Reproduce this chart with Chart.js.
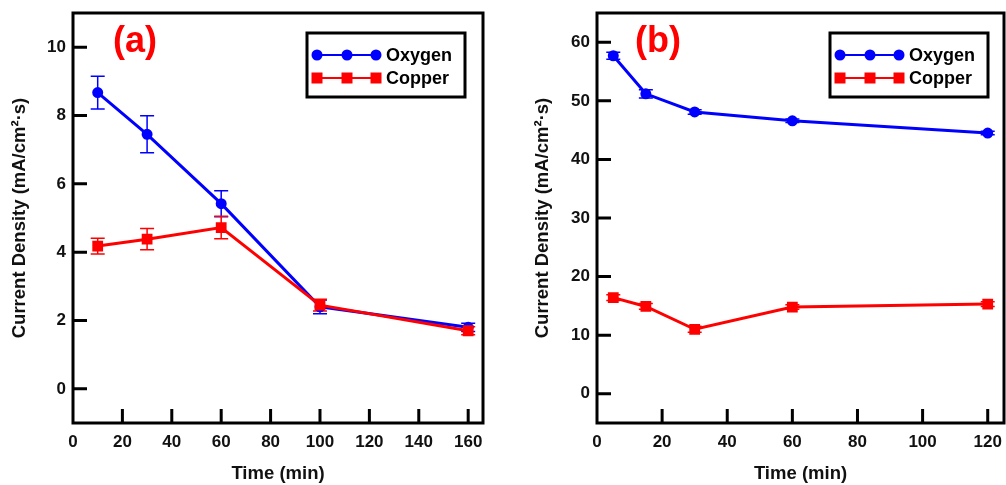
<!DOCTYPE html>
<html>
<head>
<meta charset="utf-8">
<script src="https://cdn.jsdelivr.net/npm/chart.js@4.4.1/dist/chart.umd.min.js"></script>
<style>
    html, body { margin: 0; padding: 0; background: #fff; }
    #wrap { position: relative; width: 1006px; height: 485px; overflow: hidden; }
    canvas { position: absolute; top: 0; }
    #chart-a { left: 0; }
    #chart-b { left: 505px; }
</style>
</head>
<body>
<div id="wrap">
    <canvas id="chart-a" width="505" height="485"></canvas>
    <canvas id="chart-b" width="501" height="485"></canvas>
</div>
<script>
// panel (a)
const timeA = [10, 30, 60, 100, 160];
const oxygenA = [8.67, 7.45, 5.42, 2.40, 1.80];
const oxygenErrA = [0.48, 0.54, 0.38, 0.20, 0.12];
const copperA = [4.18, 4.38, 4.72, 2.45, 1.70];
const copperErrA = [0.23, 0.31, 0.33, 0.17, 0.12];
const xTicksA = [0, 20, 40, 60, 80, 100, 120, 140, 160];
const yTicksA = [0, 2, 4, 6, 8, 10];

// panel (b)
const timeB = [5, 15, 30, 60, 120];
const oxygenB = [57.7, 51.2, 48.1, 46.6, 44.5];
const oxygenErrB = [0.6, 0.7, 0.4, 0.3, 0.3];
const copperB = [16.4, 14.9, 11.0, 14.8, 15.3];
const copperErrB = [0.5, 0.5, 0.5, 0.4, 0.4];
const xTicksB = [0, 20, 40, 60, 80, 100, 120];
const yTicksB = [0, 10, 20, 30, 40, 50, 60];

const FONT = "'Liberation Sans', Arial, sans-serif";
const BLUE = "#0000ff";
const RED = "#ff0000";

// box around the plot + inward ticks
const frameAndTicks = {
    id: "frameAndTicks",
    afterDraw(chart) {
        const { ctx, chartArea: a, scales } = chart;
        ctx.save();
        ctx.strokeStyle = "#000";
        ctx.lineWidth = 3;
        ctx.strokeRect(a.left, a.top, a.right - a.left, a.bottom - a.top);
        ctx.beginPath();
        scales.x.ticks.forEach((t) => {
            const px = scales.x.getPixelForValue(t.value);
            if (px <= a.left + 2) return; // first tick sits on the frame
            ctx.moveTo(px, a.bottom);
            ctx.lineTo(px, a.bottom - 14);
        });
        scales.y.ticks.forEach((t) => {
            const py = scales.y.getPixelForValue(t.value);
            ctx.moveTo(a.left, py);
            ctx.lineTo(a.left + 14, py);
        });
        ctx.stroke();
        ctx.restore();
    },
};

// vertical error bars with caps
const errorBars = {
    id: "errorBars",
    beforeDatasetsDraw(chart) {
        const { ctx, scales } = chart;
        ctx.save();
        ctx.lineWidth = 1.5;
        chart.data.datasets.forEach((ds) => {
            if (!ds.errors) return;
            ctx.strokeStyle = ds.borderColor;
            ctx.beginPath();
            ds.data.forEach((p, i) => {
                const x = scales.x.getPixelForValue(p.x);
                const yTop = scales.y.getPixelForValue(p.y + ds.errors[i]);
                const yBot = scales.y.getPixelForValue(p.y - ds.errors[i]);
                ctx.moveTo(x, yTop);
                ctx.lineTo(x, yBot);
                ctx.moveTo(x - 7, yTop);
                ctx.lineTo(x + 7, yTop);
                ctx.moveTo(x - 7, yBot);
                ctx.lineTo(x + 7, yBot);
            });
            ctx.stroke();
        });
        ctx.restore();
    },
};

// legend box inside the plot + panel letter
const boxLegend = {
    id: "boxLegend",
    afterDraw(chart, args, opts) {
        const { ctx, chartArea: a } = chart;
        const left = a.right - opts.right - opts.width;
        const top = opts.top;
        ctx.save();
        ctx.lineWidth = 3;
        ctx.strokeStyle = "#000";
        ctx.strokeRect(left, top, opts.width, opts.height);

        chart.data.datasets.forEach((ds, i) => {
            const y = top + 22 + i * 23;
            ctx.strokeStyle = ds.borderColor;
            ctx.fillStyle = ds.borderColor;
            ctx.lineWidth = 2;
            ctx.beginPath();
            ctx.moveTo(left + 10, y);
            ctx.lineTo(left + 69, y);
            ctx.stroke();
            [10, 40, 69].forEach((dx) => {
                ctx.beginPath();
                if (ds.pointStyle === "rect") {
                    ctx.rect(left + dx - 5.5, y - 5.5, 11, 11);
                } else {
                    ctx.arc(left + dx, y, 5.5, 0, Math.PI * 2);
                }
                ctx.fill();
            });
            ctx.fillStyle = "#000";
            ctx.font = "bold 18px " + FONT;
            ctx.textBaseline = "middle";
            ctx.textAlign = "left";
            ctx.fillText(ds.label, left + 79, y + 1);
        });

        ctx.fillStyle = RED;
        ctx.font = "bold 36px " + FONT;
        ctx.textBaseline = "middle";
        ctx.fillText(opts.panel, opts.panelX, 42);
        ctx.restore();
    },
};

function makeChart(canvasId, p) {
    const tickFont = { family: FONT, size: 17, weight: "bold" };
    const titleFont = { family: FONT, size: 18.5, weight: "bold" };

    return new Chart(document.getElementById(canvasId), {
        type: "scatter",
        data: {
            datasets: [
                {
                    label: "Oxygen",
                    data: p.time.map((t, i) => ({ x: t, y: p.oxygen[i] })),
                    errors: p.oxygenErr,
                    showLine: true,
                    borderColor: BLUE,
                    backgroundColor: BLUE,
                    borderWidth: 3,
                    pointStyle: "circle",
                    pointRadius: 4,
                    order: 1,
                },
                {
                    label: "Copper",
                    data: p.time.map((t, i) => ({ x: t, y: p.copper[i] })),
                    errors: p.copperErr,
                    showLine: true,
                    borderColor: RED,
                    backgroundColor: RED,
                    borderWidth: 3,
                    pointStyle: "rect",
                    pointRadius: 5.5,
                    order: 0,
                },
            ],
        },
        options: {
            responsive: false,
            animation: false,
            layout: {
                autoPadding: false,
                padding: { top: 13, right: p.padRight, bottom: 0, left: 0 },
            },
            plugins: {
                legend: { display: false },
                tooltip: { enabled: false },
                boxLegend: {
                    right: p.legendRight,
                    top: 33,
                    width: 158,
                    height: 64,
                    panel: p.panel,
                    panelX: p.panelX,
                },
            },
            scales: {
                x: {
                    type: "linear",
                    min: p.xMin,
                    max: p.xMax,
                    afterBuildTicks: (s) => {
                        s.ticks = p.xTicks.map((v) => ({ value: v }));
                    },
                    afterFit: (s) => {
                        s.height = 62;
                        s.paddingLeft = 0;
                        s.paddingRight = 0;
                    },
                    grid: { display: false, drawTicks: false, tickLength: 0 },
                    border: { display: false },
                    ticks: {
                        padding: 9,
                        color: "#111",
                        font: tickFont,
                        maxRotation: 0,
                        autoSkip: false,
                    },
                    title: {
                        display: true,
                        text: "Time (min)",
                        color: "#111",
                        font: titleFont,
                        padding: { top: 0, bottom: 0 },
                    },
                },
                y: {
                    type: "linear",
                    min: p.yMin,
                    max: p.yMax,
                    afterBuildTicks: (s) => {
                        s.ticks = p.yTicks.map((v) => ({ value: v }));
                    },
                    afterFit: (s) => {
                        s.width = p.yWidth;
                        s.paddingTop = 0;
                        s.paddingBottom = 0;
                    },
                    grid: { display: false, drawTicks: false, tickLength: 0 },
                    border: { display: false },
                    ticks: {
                        padding: 7,
                        color: "#111",
                        font: tickFont,
                        autoSkip: false,
                    },
                    title: {
                        display: true,
                        text: "Current Density (mA/cm²·s)",
                        color: "#111",
                        font: titleFont,
                        padding: { top: p.yTitlePad, bottom: 0 },
                    },
                },
            },
        },
        plugins: [frameAndTicks, errorBars, boxLegend],
    });
}

makeChart("chart-a", {
    time: timeA, oxygen: oxygenA, oxygenErr: oxygenErrA, copper: copperA, copperErr: copperErrA,
    xTicks: xTicksA, yTicks: yTicksA,
    xMin: 0, xMax: 166, yMin: -1, yMax: 11,
    yWidth: 73, padRight: 22, legendRight: 18, yTitlePad: 9,
    panel: "(a)", panelX: 113,
});

makeChart("chart-b", {
    time: timeB, oxygen: oxygenB, oxygenErr: oxygenErrB, copper: copperB, copperErr: copperErrB,
    xTicks: xTicksB, yTicks: yTicksB,
    xMin: 0, xMax: 125, yMin: -5, yMax: 65,
    yWidth: 92, padRight: 2, legendRight: 16, yTitlePad: 27,
    panel: "(b)", panelX: 130,
});
</script>
</body>
</html>
